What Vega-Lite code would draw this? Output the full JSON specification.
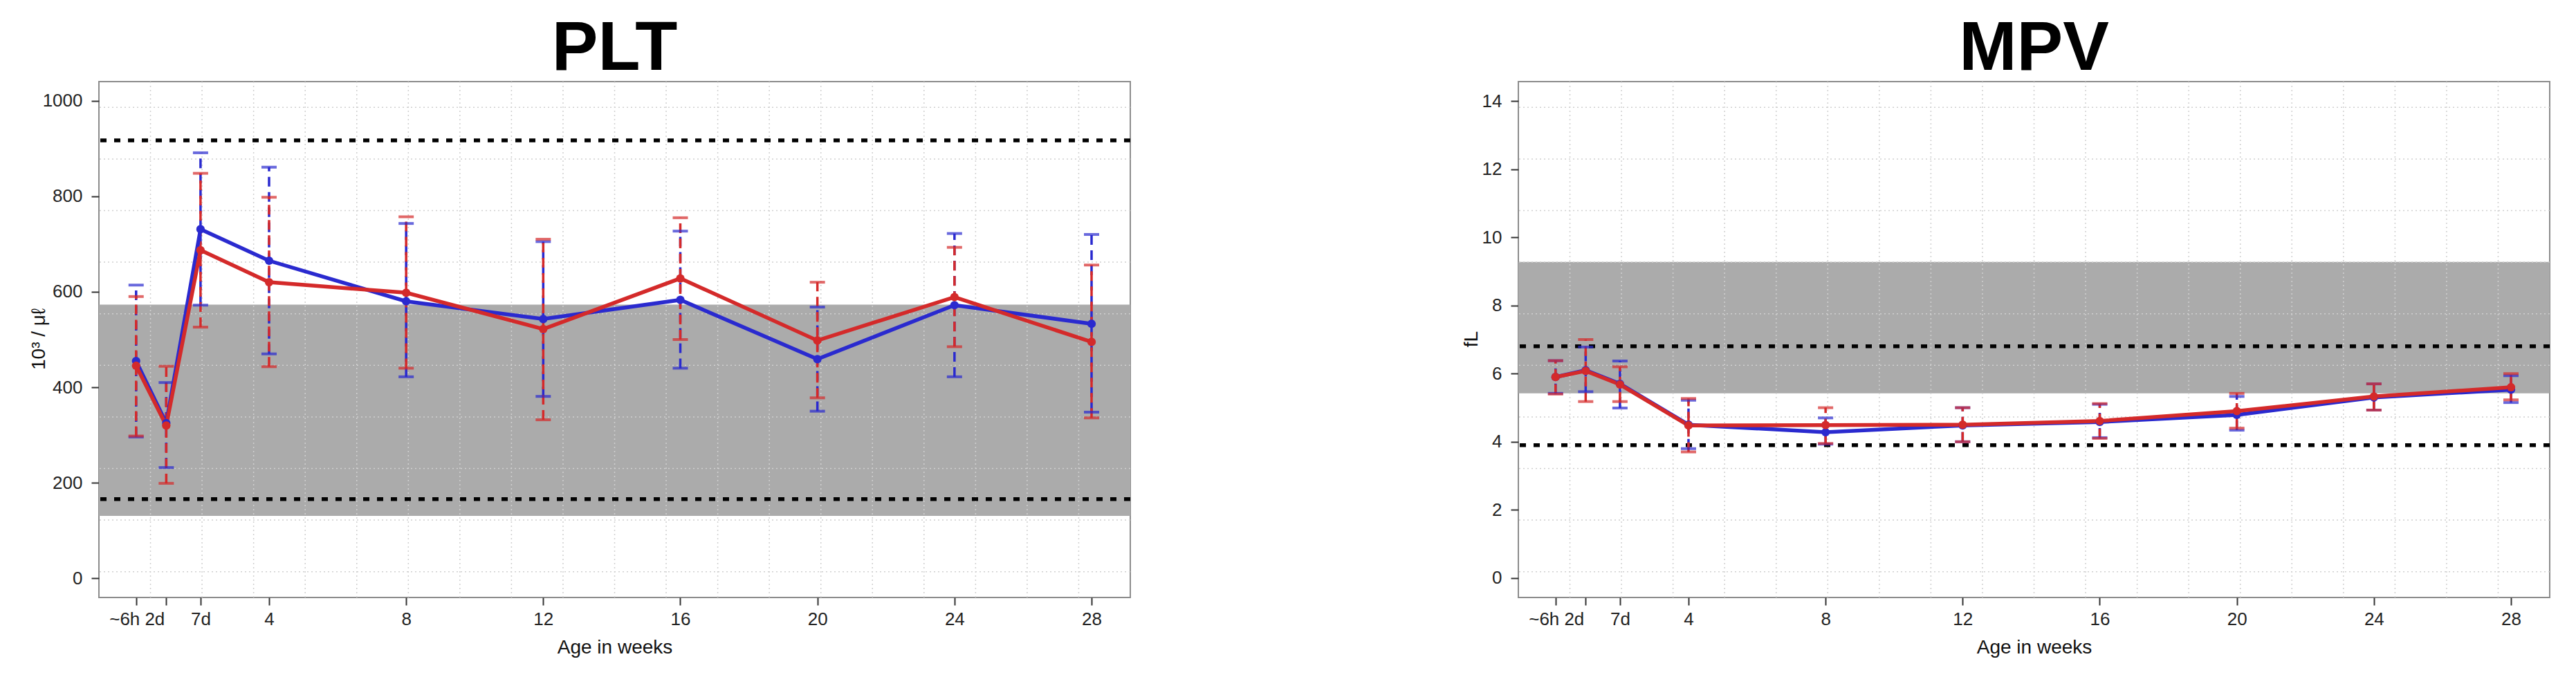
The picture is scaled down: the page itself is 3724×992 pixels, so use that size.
{
  "$schema": "https://vega.github.io/schema/vega-lite/v6.json",
  "background": "white",
  "padding": {"left": 41, "top": 20, "right": 5, "bottom": 5},
  "spacing": 474,
  "config": {
    "font": "Liberation Sans",
    "view": {"stroke": "#8c8c8c", "strokeWidth": 2},
    "title": {"font": "Liberation Sans", "fontSize": 100, "fontWeight": "bold", "color": "#000000", "anchor": "middle", "baseline": "alphabetic", "offset": -5},
    "axis": {"labelFont": "Liberation Sans", "titleFont": "Liberation Sans", "labelColor": "#222222", "titleColor": "#111111", "titleFontWeight": "normal"}
  },
  "datasets": {
    "plt": [
      {"g": "G1", "t": 0.12, "m": 455, "lo": 296, "hi": 614},
      {"g": "G1", "t": 1, "m": 325, "lo": 232, "hi": 410},
      {"g": "G1", "t": 2, "m": 731, "lo": 572, "hi": 891},
      {"g": "G1", "t": 4, "m": 665, "lo": 470, "hi": 861},
      {"g": "G1", "t": 8, "m": 580, "lo": 422, "hi": 743},
      {"g": "G1", "t": 12, "m": 543, "lo": 381, "hi": 705},
      {"g": "G1", "t": 16, "m": 583, "lo": 440, "hi": 727},
      {"g": "G1", "t": 20, "m": 459, "lo": 350, "hi": 568},
      {"g": "G1", "t": 24, "m": 572, "lo": 422, "hi": 722},
      {"g": "G1", "t": 28, "m": 533, "lo": 348, "hi": 720},
      {"g": "G2", "t": 0.12, "m": 445, "lo": 298, "hi": 590},
      {"g": "G2", "t": 1, "m": 320, "lo": 199, "hi": 444},
      {"g": "G2", "t": 2, "m": 687, "lo": 526, "hi": 848},
      {"g": "G2", "t": 4, "m": 620, "lo": 443, "hi": 798},
      {"g": "G2", "t": 8, "m": 598, "lo": 440, "hi": 757},
      {"g": "G2", "t": 12, "m": 522, "lo": 332, "hi": 710},
      {"g": "G2", "t": 16, "m": 628, "lo": 500, "hi": 755},
      {"g": "G2", "t": 20, "m": 498, "lo": 378, "hi": 620},
      {"g": "G2", "t": 24, "m": 589, "lo": 485, "hi": 693},
      {"g": "G2", "t": 28, "m": 495, "lo": 336, "hi": 656}
    ],
    "mpv": [
      {"g": "G1", "t": 0.12, "m": 5.9, "lo": 5.42, "hi": 6.38},
      {"g": "G1", "t": 1, "m": 6.1, "lo": 5.47, "hi": 6.78},
      {"g": "G1", "t": 2, "m": 5.7, "lo": 4.99, "hi": 6.37},
      {"g": "G1", "t": 4, "m": 4.5, "lo": 3.8, "hi": 5.22},
      {"g": "G1", "t": 8, "m": 4.28, "lo": 3.93, "hi": 4.7},
      {"g": "G1", "t": 12, "m": 4.48, "lo": 4.0, "hi": 5.0},
      {"g": "G1", "t": 16, "m": 4.58, "lo": 4.12, "hi": 5.1},
      {"g": "G1", "t": 20, "m": 4.79, "lo": 4.34, "hi": 5.33},
      {"g": "G1", "t": 24, "m": 5.3, "lo": 4.93, "hi": 5.7},
      {"g": "G1", "t": 28, "m": 5.53, "lo": 5.15, "hi": 5.94},
      {"g": "G2", "t": 0.12, "m": 5.9, "lo": 5.4, "hi": 6.38},
      {"g": "G2", "t": 1, "m": 6.08, "lo": 5.18, "hi": 7.0},
      {"g": "G2", "t": 2, "m": 5.68, "lo": 5.18, "hi": 6.2},
      {"g": "G2", "t": 4, "m": 4.48, "lo": 3.7, "hi": 5.27},
      {"g": "G2", "t": 8, "m": 4.49, "lo": 3.95, "hi": 5.0},
      {"g": "G2", "t": 12, "m": 4.5, "lo": 4.0, "hi": 5.0},
      {"g": "G2", "t": 16, "m": 4.61, "lo": 4.1, "hi": 5.12},
      {"g": "G2", "t": 20, "m": 4.9, "lo": 4.4, "hi": 5.42},
      {"g": "G2", "t": 24, "m": 5.33, "lo": 4.93, "hi": 5.7},
      {"g": "G2", "t": 28, "m": 5.6, "lo": 5.23, "hi": 6.0}
    ],
    "gx": [
      {"t": 0.54}, {"t": 2.044}, {"t": 3.549}, {"t": 5.054}, {"t": 6.559}, {"t": 8.064}, {"t": 9.568}, {"t": 11.073}, {"t": 12.578}, {"t": 14.083},
      {"t": 15.587}, {"t": 17.092}, {"t": 18.597}, {"t": 20.102}, {"t": 21.606}, {"t": 23.111}, {"t": 24.616}, {"t": 26.121}, {"t": 27.625}
    ],
    "gy_plt": [{"v": 14}, {"v": 122}, {"v": 230}, {"v": 338}, {"v": 446}, {"v": 554}, {"v": 662}, {"v": 770}, {"v": 878}, {"v": 986}],
    "gy_mpv": [{"v": 0.187}, {"v": 1.701}, {"v": 3.215}, {"v": 4.729}, {"v": 6.243}, {"v": 7.757}, {"v": 9.271}, {"v": 10.785}, {"v": 12.299}, {"v": 13.813}],
    "band_plt": [{"lo": 131, "hi": 573}],
    "band_mpv": [{"lo": 5.42, "hi": 9.28}],
    "ref_plt": [{"v": 166}, {"v": 917}],
    "ref_mpv": [{"v": 3.9}, {"v": 6.8}]
  },
  "hconcat": [
    {
      "title": {"text": "PLT"},
      "width": 1491,
      "height": 746,
      "layer": [
        {
          "data": {"name": "band_plt"},
          "mark": {"type": "rect", "color": "#ababab"},
          "encoding": {
            "y": {"field": "lo", "type": "quantitative", "title": "10³ / μℓ", "scale": {"domain": [-40, 1040], "nice": false, "zero": false},
              "axis": {"values": [0, 200, 400, 600, 800, 1000], "format": "d", "grid": false, "domain": false, "tickSize": 11, "tickWidth": 2, "tickColor": "#333333", "labelFontSize": 26, "labelPadding": 13, "titleFontSize": 28, "titleX": -87, "titleY": 372, "titleAngle": -90, "titleAlign": "center", "titleBaseline": "middle"}},
            "y2": {"field": "hi"}
          }
        },
        {
          "data": {"name": "gx"},
          "mark": {"type": "rule", "color": "#d0d0d0", "strokeWidth": 1.5, "strokeDash": [2, 4]},
          "encoding": {
            "x": {"field": "t", "type": "quantitative", "title": "Age in weeks", "scale": {"domain": [-0.965, 29.13], "nice": false, "zero": false},
              "axis": {"values": [0.12, 1, 2, 4, 8, 12, 16, 20, 24, 28], "labelExpr": "datum.value < 0.5 ? '~6h' : datum.value == 1 ? '2d' : datum.value == 2 ? '7d' : datum.label", "labelOffset": {"condition": {"test": "datum.value < 1.5", "value": -17}, "value": 0}, "grid": false, "domain": false, "tickSize": 11, "tickWidth": 2, "tickColor": "#333333", "labelFontSize": 26, "labelPadding": 7, "labelOverlap": false, "labelFlush": false, "labelBound": false, "titleFontSize": 28, "titlePadding": 14}}
          }
        },
        {
          "data": {"name": "gy_plt"},
          "mark": {"type": "rule", "color": "#d0d0d0", "strokeWidth": 1.5, "strokeDash": [2, 4]},
          "encoding": {"y": {"field": "v", "type": "quantitative", "title": "10³ / μℓ", "scale": {"domain": [-40, 1040], "nice": false, "zero": false}}}
        },
        {
          "data": {"name": "ref_plt"},
          "mark": {"type": "rule", "color": "#000000", "strokeWidth": 5.5, "strokeDash": [9, 11]},
          "encoding": {"y": {"field": "v", "type": "quantitative", "title": "10³ / μℓ", "scale": {"domain": [-40, 1040], "nice": false, "zero": false}}}
        },
        {
          "data": {"name": "plt"},
          "mark": {"type": "rule", "strokeWidth": 3.5, "strokeDash": [14, 8]},
          "encoding": {
            "x": {"field": "t", "type": "quantitative", "title": "Age in weeks", "scale": {"domain": [-0.965, 29.13], "nice": false, "zero": false}},
            "y": {"field": "lo", "type": "quantitative", "title": "10³ / μℓ", "scale": {"domain": [-40, 1040], "nice": false, "zero": false}},
            "y2": {"field": "hi"},
            "color": {"field": "g", "type": "nominal", "scale": {"domain": ["G1", "G2"], "range": ["#2a2acf", "#d42a2a"]}, "legend": null}
          }
        },
        {
          "data": {"name": "plt"},
          "mark": {"type": "tick", "orient": "horizontal", "size": 22, "thickness": 4},
          "encoding": {
            "x": {"field": "t", "type": "quantitative", "title": "Age in weeks", "scale": {"domain": [-0.965, 29.13], "nice": false, "zero": false}},
            "y": {"field": "lo", "type": "quantitative", "title": "10³ / μℓ", "scale": {"domain": [-40, 1040], "nice": false, "zero": false}},
            "color": {"field": "g", "type": "nominal", "scale": {"domain": ["G1", "G2"], "range": ["#2a2acf", "#d42a2a"]}, "legend": null}
          }
        },
        {
          "data": {"name": "plt"},
          "mark": {"type": "tick", "orient": "horizontal", "size": 22, "thickness": 4},
          "encoding": {
            "x": {"field": "t", "type": "quantitative", "title": "Age in weeks", "scale": {"domain": [-0.965, 29.13], "nice": false, "zero": false}},
            "y": {"field": "hi", "type": "quantitative", "title": "10³ / μℓ", "scale": {"domain": [-40, 1040], "nice": false, "zero": false}},
            "color": {"field": "g", "type": "nominal", "scale": {"domain": ["G1", "G2"], "range": ["#2a2acf", "#d42a2a"]}, "legend": null}
          }
        },
        {
          "data": {"name": "plt"},
          "mark": {"type": "line", "strokeWidth": 5.5},
          "encoding": {
            "x": {"field": "t", "type": "quantitative", "title": "Age in weeks", "scale": {"domain": [-0.965, 29.13], "nice": false, "zero": false}},
            "y": {"field": "m", "type": "quantitative", "title": "10³ / μℓ", "scale": {"domain": [-40, 1040], "nice": false, "zero": false}},
            "color": {"field": "g", "type": "nominal", "scale": {"domain": ["G1", "G2"], "range": ["#2a2acf", "#d42a2a"]}, "legend": null}
          }
        },
        {
          "data": {"name": "plt"},
          "mark": {"type": "circle", "size": 150, "opacity": 1},
          "encoding": {
            "x": {"field": "t", "type": "quantitative", "title": "Age in weeks", "scale": {"domain": [-0.965, 29.13], "nice": false, "zero": false}},
            "y": {"field": "m", "type": "quantitative", "title": "10³ / μℓ", "scale": {"domain": [-40, 1040], "nice": false, "zero": false}},
            "color": {"field": "g", "type": "nominal", "scale": {"domain": ["G1", "G2"], "range": ["#2a2acf", "#d42a2a"]}, "legend": null}
          }
        }
      ]
    },
    {
      "title": {"text": "MPV"},
      "width": 1491,
      "height": 746,
      "layer": [
        {
          "data": {"name": "band_mpv"},
          "mark": {"type": "rect", "color": "#ababab"},
          "encoding": {
            "y": {"field": "lo", "type": "quantitative", "title": "fL", "scale": {"domain": [-0.57, 14.57], "nice": false, "zero": false},
              "axis": {"values": [0, 2, 4, 6, 8, 10, 12, 14], "grid": false, "domain": false, "tickSize": 11, "tickWidth": 2, "tickColor": "#333333", "labelFontSize": 26, "labelPadding": 13, "titleFontSize": 28, "titleX": -68, "titleY": 372, "titleAngle": -90, "titleAlign": "center", "titleBaseline": "middle"}},
            "y2": {"field": "hi"}
          }
        },
        {
          "data": {"name": "gx"},
          "mark": {"type": "rule", "color": "#d0d0d0", "strokeWidth": 1.5, "strokeDash": [2, 4]},
          "encoding": {
            "x": {"field": "t", "type": "quantitative", "title": "Age in weeks", "scale": {"domain": [-0.965, 29.13], "nice": false, "zero": false},
              "axis": {"values": [0.12, 1, 2, 4, 8, 12, 16, 20, 24, 28], "labelExpr": "datum.value < 0.5 ? '~6h' : datum.value == 1 ? '2d' : datum.value == 2 ? '7d' : datum.label", "labelOffset": {"condition": {"test": "datum.value < 1.5", "value": -17}, "value": 0}, "grid": false, "domain": false, "tickSize": 11, "tickWidth": 2, "tickColor": "#333333", "labelFontSize": 26, "labelPadding": 7, "labelOverlap": false, "labelFlush": false, "labelBound": false, "titleFontSize": 28, "titlePadding": 14}}
          }
        },
        {
          "data": {"name": "gy_mpv"},
          "mark": {"type": "rule", "color": "#d0d0d0", "strokeWidth": 1.5, "strokeDash": [2, 4]},
          "encoding": {"y": {"field": "v", "type": "quantitative", "title": "fL", "scale": {"domain": [-0.57, 14.57], "nice": false, "zero": false}}}
        },
        {
          "data": {"name": "ref_mpv"},
          "mark": {"type": "rule", "color": "#000000", "strokeWidth": 5.5, "strokeDash": [9, 11]},
          "encoding": {"y": {"field": "v", "type": "quantitative", "title": "fL", "scale": {"domain": [-0.57, 14.57], "nice": false, "zero": false}}}
        },
        {
          "data": {"name": "mpv"},
          "mark": {"type": "rule", "strokeWidth": 3.5, "strokeDash": [14, 8]},
          "encoding": {
            "x": {"field": "t", "type": "quantitative", "title": "Age in weeks", "scale": {"domain": [-0.965, 29.13], "nice": false, "zero": false}},
            "y": {"field": "lo", "type": "quantitative", "title": "fL", "scale": {"domain": [-0.57, 14.57], "nice": false, "zero": false}},
            "y2": {"field": "hi"},
            "color": {"field": "g", "type": "nominal", "scale": {"domain": ["G1", "G2"], "range": ["#2a2acf", "#d42a2a"]}, "legend": null}
          }
        },
        {
          "data": {"name": "mpv"},
          "mark": {"type": "tick", "orient": "horizontal", "size": 22, "thickness": 4},
          "encoding": {
            "x": {"field": "t", "type": "quantitative", "title": "Age in weeks", "scale": {"domain": [-0.965, 29.13], "nice": false, "zero": false}},
            "y": {"field": "lo", "type": "quantitative", "title": "fL", "scale": {"domain": [-0.57, 14.57], "nice": false, "zero": false}},
            "color": {"field": "g", "type": "nominal", "scale": {"domain": ["G1", "G2"], "range": ["#2a2acf", "#d42a2a"]}, "legend": null}
          }
        },
        {
          "data": {"name": "mpv"},
          "mark": {"type": "tick", "orient": "horizontal", "size": 22, "thickness": 4},
          "encoding": {
            "x": {"field": "t", "type": "quantitative", "title": "Age in weeks", "scale": {"domain": [-0.965, 29.13], "nice": false, "zero": false}},
            "y": {"field": "hi", "type": "quantitative", "title": "fL", "scale": {"domain": [-0.57, 14.57], "nice": false, "zero": false}},
            "color": {"field": "g", "type": "nominal", "scale": {"domain": ["G1", "G2"], "range": ["#2a2acf", "#d42a2a"]}, "legend": null}
          }
        },
        {
          "data": {"name": "mpv"},
          "mark": {"type": "line", "strokeWidth": 5.5},
          "encoding": {
            "x": {"field": "t", "type": "quantitative", "title": "Age in weeks", "scale": {"domain": [-0.965, 29.13], "nice": false, "zero": false}},
            "y": {"field": "m", "type": "quantitative", "title": "fL", "scale": {"domain": [-0.57, 14.57], "nice": false, "zero": false}},
            "color": {"field": "g", "type": "nominal", "scale": {"domain": ["G1", "G2"], "range": ["#2a2acf", "#d42a2a"]}, "legend": null}
          }
        },
        {
          "data": {"name": "mpv"},
          "mark": {"type": "circle", "size": 150, "opacity": 1},
          "encoding": {
            "x": {"field": "t", "type": "quantitative", "title": "Age in weeks", "scale": {"domain": [-0.965, 29.13], "nice": false, "zero": false}},
            "y": {"field": "m", "type": "quantitative", "title": "fL", "scale": {"domain": [-0.57, 14.57], "nice": false, "zero": false}},
            "color": {"field": "g", "type": "nominal", "scale": {"domain": ["G1", "G2"], "range": ["#2a2acf", "#d42a2a"]}, "legend": null}
          }
        }
      ]
    }
  ]
}
